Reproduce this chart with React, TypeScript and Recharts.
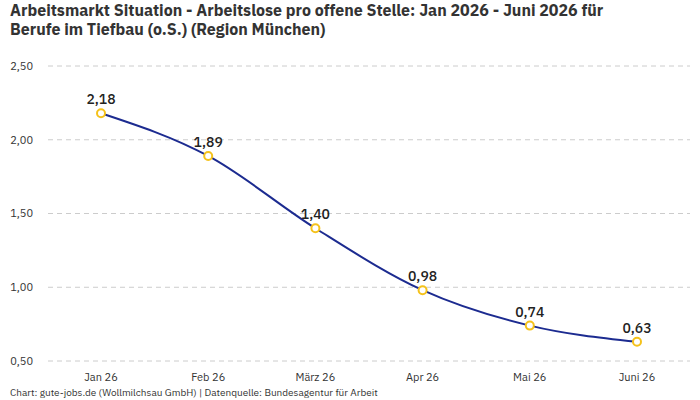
import React from "react";
import { LineChart, Line, XAxis, YAxis, CartesianGrid, LabelList } from "recharts";

const months = ["Jan 26", "Feb 26", "März 26", "Apr 26", "Mai 26", "Juni 26"];
const ratio = [2.18, 1.89, 1.4, 0.98, 0.74, 0.63];
const yTicks = [0.5, 1.0, 1.5, 2.0, 2.5];

const data = months.map((m, i) => ({ month: m, value: ratio[i] }));

const fmt = (v: number) => v.toFixed(2).replace(".", ",");
const FONT = "'IBM Plex Sans', Roboto, 'Noto Sans', sans-serif";

export default function App() {
  return (
    <div style={{ position: "absolute", left: 0, top: 0, width: 700, height: 400, background: "#fff", fontFamily: FONT }}>
      <div
        style={{
          position: "absolute",
          left: 10,
          top: 1,
          fontSize: 16,
          fontWeight: 700,
          lineHeight: "19px",
          color: "#333",
        }}
      >
        Arbeitsmarkt Situation - Arbeitslose pro offene Stelle: Jan 2026 - Juni 2026 für
        <br />
        Berufe im Tiefbau (o.S.) (Region München)
      </div>
      <LineChart
        width={700}
        height={400}
        data={data}
        margin={{ top: 66, right: 10, bottom: 9, left: 8 }}
        style={{ fontFamily: FONT }}
      >
        <CartesianGrid vertical={false} stroke="#cccccc" strokeDasharray="5 4" />
        <XAxis
          dataKey="month"
          height={30}
          axisLine={false}
          tickLine={false}
          tickMargin={6}
          padding={{ left: 53, right: 53 }}
          tick={{ fontSize: 11, fill: "#333" }}
          interval={0}
        />
        <YAxis
          width={40}
          domain={[0.5, 2.5]}
          ticks={yTicks}
          axisLine={false}
          tickLine={false}
          tickMargin={9}
          tickFormatter={fmt}
          tick={{ fontSize: 11, fill: "#333" }}
        />
        <Line
          type="monotone"
          dataKey="value"
          stroke="#1c2b90"
          strokeWidth={2}
          dot={{ r: 4, fill: "#ffffff", stroke: "#f5c21b", strokeWidth: 2 }}
          isAnimationActive={false}
        >
          <LabelList
            dataKey="value"
            position="top"
            offset={9}
            formatter={(v: any) => fmt(Number(v))}
            style={{ fontSize: 14, fontWeight: 500, fill: "#222" }}
          />
        </Line>
      </LineChart>
      <div
        style={{
          position: "absolute",
          left: 10,
          top: 387,
          fontSize: 10,
          color: "#333",
          lineHeight: "12px",
        }}
      >
        Chart: gute-jobs.de (Wollmilchsau GmbH) | Datenquelle: Bundesagentur für Arbeit
      </div>
    </div>
  );
}
